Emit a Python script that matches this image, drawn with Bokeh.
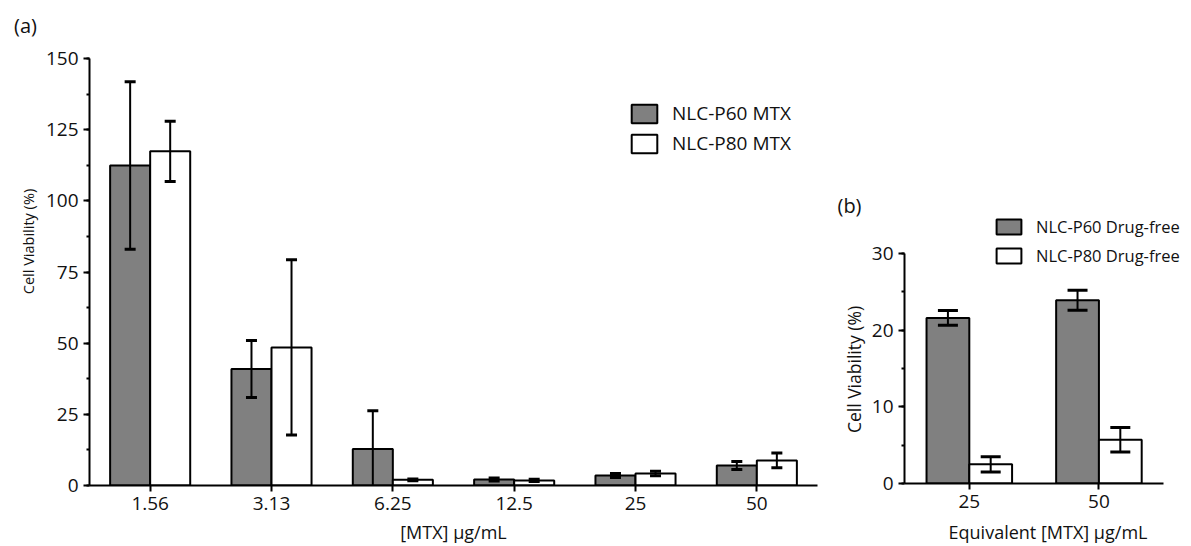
import numpy as np
from math import pi
from bokeh.plotting import figure
from bokeh.models import (ColumnDataSource, Range1d, FixedTicker, SingleIntervalTicker,
                          Whisker, TeeHead, Label)
from bokeh.layouts import row, column
from bokeh.transform import dodge
from bokeh.embed import file_html
from bokeh.resources import INLINE

# ---------------- data ----------------
conc_a = ["1.56", "3.13", "6.25", "12.5", "25", "50"]
p60_mtx = [112.4, 40.9, 12.8, 2.1, 3.5, 7.0]
p60_mtx_sd = [29.4, 10.0, 13.5, 0.5, 0.7, 1.4]
p80_mtx = [117.4, 48.5, 2.0, 1.8, 4.2, 8.8]
p80_mtx_sd = [10.6, 30.8, 0.3, 0.4, 0.8, 2.6]

conc_b = ["25", "50"]
p60_free = [21.6, 23.9]
p60_free_sd = [0.95, 1.3]
p80_free = [2.5, 5.7]
p80_free_sd = [1.0, 1.6]

FONT = "Open Sans"
GRAY = "#808080"
INK = "#111111"
BAR_W = 0.33
OFF = BAR_W / 2
H = 546


def build(cats, g, gsd, w, wsd, yrange, ybounds, yint, labels, width, borders, xrange_max,
          cap, leg_loc, leg_glyph, leg_font, xlabel, xlabel_size, xlabel_standoff):
    n = len(cats)
    src = ColumnDataSource(dict(
        x=list(range(n)),
        g=g, g_lo=[a - b for a, b in zip(g, gsd)], g_hi=[a + b for a, b in zip(g, gsd)],
        w=w, w_lo=[a - b for a, b in zip(w, wsd)], w_hi=[a + b for a, b in zip(w, wsd)],
    ))
    bl, br, bt, bb = borders
    p = figure(width=width, height=H, x_range=Range1d(-0.5, xrange_max),
               y_range=Range1d(*yrange), output_backend="svg", toolbar_location=None,
               min_border_left=bl, min_border_right=br, min_border_top=bt,
               min_border_bottom=bb)
    p.outline_line_color = None
    p.xgrid.visible = False
    p.ygrid.visible = False
    p.background_fill_color = "white"

    p.vbar(x=dodge("x", -OFF), top="g", width=BAR_W, source=src, fill_color=GRAY,
           line_color="black", line_width=2, legend_label=labels[0])
    p.vbar(x=dodge("x", OFF), top="w", width=BAR_W, source=src, fill_color="white",
           line_color="black", line_width=2, legend_label=labels[1])

    for key, off in (("g", -OFF), ("w", OFF)):
        wh = Whisker(base=dodge("x", off), upper=f"{key}_hi", lower=f"{key}_lo", source=src,
                     line_color="black", line_width=2, level="annotation",
                     upper_head=TeeHead(size=cap, line_width=3, line_color="black"),
                     lower_head=TeeHead(size=cap, line_width=3, line_color="black"))
        p.add_layout(wh)

    p.xaxis.ticker = FixedTicker(ticks=list(range(n)), minor_ticks=[])
    p.xaxis.major_label_overrides = {i: c for i, c in enumerate(cats)}
    p.xaxis.bounds = (-0.5, n - 0.5)
    p.yaxis.ticker = SingleIntervalTicker(interval=yint, num_minor_ticks=2)
    p.yaxis.bounds = ybounds

    for ax in (p.xaxis, p.yaxis):
        ax.axis_line_width = 2
        ax.axis_line_color = "black"
        ax.major_tick_line_width = 2
        ax.minor_tick_line_width = 2
        ax.major_tick_out = 6
        ax.major_tick_in = 0
        ax.minor_tick_out = 3
        ax.minor_tick_in = 0
        ax.major_label_text_font = FONT
        ax.major_label_text_font_size = "19px"
        ax.major_label_text_color = INK
        ax.major_label_standoff = 5
        ax.axis_label_text_font = FONT
        ax.axis_label_text_font_style = "normal"
        ax.axis_label_text_color = INK

    p.xaxis.axis_label = xlabel
    p.xaxis.axis_label_text_font_size = xlabel_size
    p.xaxis.axis_label_standoff = xlabel_standoff

    gw, gh, lh, sp = leg_glyph
    lg = p.legend[0]
    lg.location = leg_loc
    lg.glyph_width = gw
    lg.glyph_height = gh
    lg.label_height = lh
    lg.spacing = sp
    lg.padding = 0
    lg.margin = 0
    lg.border_line_color = None
    lg.background_fill_alpha = 0
    lg.label_standoff = 12
    lg.label_text_font = FONT
    lg.label_text_font_size = leg_font
    lg.label_text_color = INK
    return p


def text_panel(width, items):
    f = figure(width=width, height=H, x_range=Range1d(0, 1), y_range=Range1d(0, 1),
               output_backend="svg", toolbar_location=None, x_axis_location=None,
               y_axis_location=None, min_border_left=0, min_border_right=0,
               min_border_top=0, min_border_bottom=0)
    f.outline_line_color = None
    f.xgrid.visible = False
    f.ygrid.visible = False
    for (txt, x, y, size, angle) in items:
        f.add_layout(Label(x=x, y=H - y, x_units="screen", y_units="screen", text=txt,
                           angle=angle, text_align="center", text_baseline="middle",
                           text_font=FONT, text_font_size=size, text_color=INK))
    return f


# panel (a)
fa = text_panel(42, [("(a)", 25, 25, "20px", 0),
                     ("Cell Viability (%)", 27.5, 241, "14.5px", pi / 2)])
pa = build(conc_a, p60_mtx, p60_mtx_sd, p80_mtx, p80_mtx_sd, (0, 150), (0, 150), 25,
           ["NLC-P60 MTX", "NLC-P80 MTX"], 778, (46, 3, 58, 61), 5.5, 11,
           (539, 329), (32, 23, 23, 4), "19px", "[MTX] \u03bcg/mL", "18px", 7)

# panel (b)
fb = text_panel(48, [("(b)", 29, 205, "20px", 0),
                     ("Cell Viability (%)", 33, 369, "17.5px", pi / 2)])
B_BOTTOM_BORDER = 63
B_TOP_BORDER = 212
B_FRAME_BOTTOM = H - B_BOTTOM_BORDER
B_SCALE = (B_FRAME_BOTTOM - 253) / 30.0          # px per % on panel (b)
pb = build(conc_b, p60_free, p60_free_sd, p80_free, p80_free_sd,
           (0, (B_FRAME_BOTTOM - B_TOP_BORDER) / B_SCALE), (0, 30), 10,
           ["NLC-P60 Drug-free", "NLC-P80 Drug-free"], 323,
           (35, 0, B_TOP_BORDER, B_BOTTOM_BORDER),
           1.5 + 28 / 130.7, 20, (89, B_FRAME_BOTTOM - 267), (31, 19, 21, 6), "16.5px",
           "Equivalent [MTX] \u03bcg/mL", "18px", 9)

layout = row(column(fa), column(pa), column(fb), column(pb))
open("out.html", "w").write(file_html(layout, INLINE))
